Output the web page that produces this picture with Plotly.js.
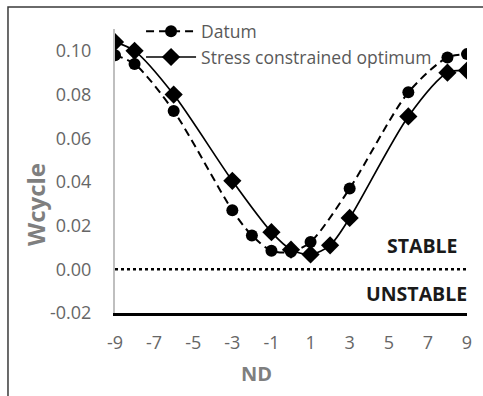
<!DOCTYPE html>
<html>
<head>
<meta charset="utf-8">
<script src="https://cdn.plot.ly/plotly-3.0.1.min.js"></script>
<style>
html,body{margin:0;padding:0;background:#fff;}
#chart{width:483px;height:396px;}
</style>
</head>
<body>
<div id="chart"></div>
<script>
const datumName = "Datum";
const datumX = [-9, -8, -6, -3, -2, -1, 0, 1, 3, 6, 8, 9];
const datumY = [0.098, 0.094, 0.0725, 0.027, 0.0155, 0.0085, 0.008, 0.0125, 0.037, 0.081, 0.097, 0.0985];

const stressName = "Stress constrained optimum";
const stressX = [-9, -8, -6, -3, -1, 0, 1, 2, 3, 6, 8, 9];
const stressY = [0.104, 0.100, 0.080, 0.0405, 0.017, 0.009, 0.0068, 0.011, 0.0235, 0.070, 0.090, 0.091];

const xTicks = [-9, -7, -5, -3, -1, 1, 3, 5, 7, 9];
const yTicks = [-0.02, 0.00, 0.02, 0.04, 0.06, 0.08, 0.10];
const xTitle = "ND";
const yTitle = "Wcycle";
const stableLabel = "STABLE";
const unstableLabel = "UNSTABLE";

const FONT = "Open Sans, Noto Sans, sans-serif";

const traces = [
  {
    x: datumX, y: datumY, name: datumName, type: "scatter", mode: "lines+markers",
    line: {color: "#000", width: 2, dash: "8px,5px", shape: "spline", smoothing: 0.8},
    marker: {symbol: "circle", size: 12, color: "#000"}
  },
  {
    x: stressX, y: stressY, name: stressName, type: "scatter", mode: "lines+markers",
    line: {color: "#000", width: 1.7, shape: "spline", smoothing: 0.8},
    marker: {symbol: "diamond", size: 14, color: "#000"}
  }
];

const layout = {
  width: 483, height: 396,
  margin: {l: 115, r: 16, t: 29, b: 83},
  paper_bgcolor: "#fff", plot_bgcolor: "#fff",
  font: {family: FONT, color: "#595959"},
  showlegend: true,
  legend: {
    x: 0.074, y: 1.055, xanchor: "left", yanchor: "top",
    bgcolor: "rgba(0,0,0,0)", font: {size: 17.5, color: "#595959", family: FONT},
    tracegroupgap: 0, itemwidth: 50
  },
  xaxis: {
    range: [-9, 9], tickvals: xTicks, ticktext: xTicks.map(String),
    showgrid: false, zeroline: false, showline: true, linecolor: "#000", linewidth: 2.5,
    ticks: "", ticklabelstandoff: 12, tickfont: {size: 18, color: "#666666", family: FONT},
    fixedrange: true
  },
  yaxis: {
    range: [-0.02, 0.11], tickvals: yTicks, ticktext: yTicks.map(v => v.toFixed(2)),
    showgrid: false, zeroline: false, showline: true, linecolor: "#bfbfbf", linewidth: 2,
    ticks: "", ticklabelstandoff: 18, tickfont: {size: 18, color: "#666666", family: FONT},
    fixedrange: true
  },
  shapes: [
    {type: "line", xref: "paper", yref: "y", x0: 0, x1: 1, y0: 0, y1: 0,
     line: {color: "#000", width: 2.5, dash: "dot"}},
    {type: "rect", xref: "paper", yref: "paper", x0: -0.304, x1: 1.2, y0: -0.5, y1: 1.0775,
     line: {color: "#3a3a3a", width: 1.5}, fillcolor: "rgba(0,0,0,0)", layer: "below"}
  ],
  annotations: [
    {text: stableLabel, xref: "paper", yref: "y", x: 0.980, y: 0.011, xanchor: "right", yanchor: "middle",
     showarrow: false, font: {size: 19.5, color: "#1a1a1a", family: FONT, weight: "bold"}},
    {text: unstableLabel, xref: "paper", yref: "y", x: 1.007, y: -0.0112, xanchor: "right", yanchor: "middle",
     showarrow: false, font: {size: 19.5, color: "#1a1a1a", family: FONT, weight: "bold"}},
    {text: xTitle, xref: "paper", yref: "paper", x: (256 - 115) / 352, y: -(373 - 313) / 284,
     xanchor: "center", yanchor: "middle", showarrow: false,
     font: {size: 20, color: "#7f7f7f", family: FONT, weight: "bold"}},
    {text: yTitle, xref: "paper", yref: "paper", x: (35 - 115) / 352, y: (313 - 205) / 284,
     xanchor: "center", yanchor: "middle", showarrow: false, textangle: -90,
     font: {size: 24, color: "#7f7f7f", family: FONT, weight: "bold"}}
  ]
};

Plotly.newPlot("chart", traces, layout, {displayModeBar: false, staticPlot: true});
</script>
</body>
</html>
